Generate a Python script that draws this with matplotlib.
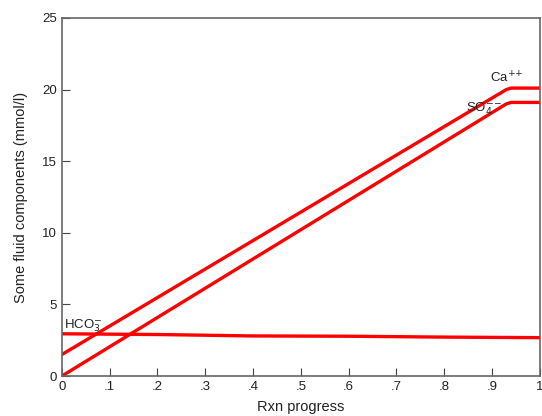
import matplotlib.pyplot as plt

plt.rcParams['font.family'] = ['Liberation Sans', 'DejaVu Sans']

# reaction progress and fluid components (mmol/l)
rxn_ca = [0.0, 0.93, 0.94, 1.0]
ca = [1.5, 20.0, 20.1, 20.1]
rxn_so4 = [0.0, 0.93, 0.94, 1.0]
so4 = [0.0, 19.0, 19.1, 19.1]
rxn_hco3 = [0.0, 0.2, 0.4, 0.6, 0.8, 1.0]
hco3 = [2.95, 2.9, 2.8, 2.78, 2.72, 2.68]

xticks = [0, 0.1, 0.2, 0.3, 0.4, 0.5, 0.6, 0.7, 0.8, 0.9, 1.0]
xtick_labels = ["0", ".1", ".2", ".3", ".4", ".5", ".6", ".7", ".8", ".9", "1"]
yticks = [0, 5, 10, 15, 20, 25]

fig = plt.figure(figsize=(5.42, 4.16), dpi=100)
ax = fig.add_axes([0.114, 0.096, 0.882, 0.861])

red = "#ff0000"
ax.plot(rxn_ca, ca, color=red, linewidth=2.4)
ax.plot(rxn_so4, so4, color=red, linewidth=2.4)
ax.plot(rxn_hco3, hco3, color=red, linewidth=2.4)

ax.text(0.895, 20.5, r"Ca$^{{+}{+}}$", fontsize=9.5, color="#222222")
ax.text(0.845, 18.5, r"SO$_4^{{-}{-}}$", fontsize=9.5, color="#222222")
ax.text(0.005, 3.3, r"HCO$_3^{-}$", fontsize=9.5, color="#222222")

ax.set_xlim(0, 1)
ax.set_ylim(0, 25)
ax.set_xticks(xticks)
ax.set_xticklabels(xtick_labels)
ax.set_yticks(yticks)
ax.tick_params(direction='in', length=6, color="#444444", labelsize=9.5, labelcolor="#222222")
for s in ax.spines.values():
    s.set_color("#666666")
    s.set_linewidth(1.2)

ax.set_xlabel("Rxn progress", fontsize=10.5, color="#222222", labelpad=5)
ax.set_ylabel("Some fluid components (mmol/l)", fontsize=10.5, color="#222222", labelpad=10)

plt.savefig("out.png", dpi=100)
